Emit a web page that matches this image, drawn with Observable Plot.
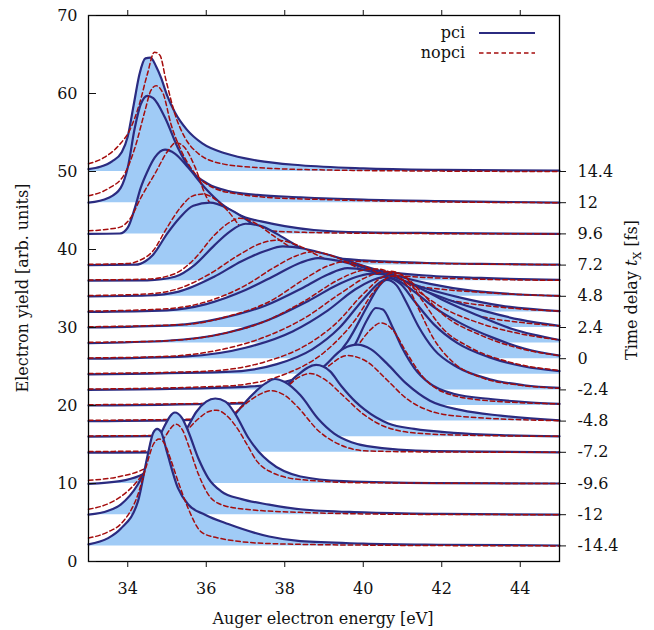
<!DOCTYPE html>
<html><head><meta charset="utf-8">
<script src="https://cdn.jsdelivr.net/npm/d3@7"></script>
<script src="https://cdn.jsdelivr.net/npm/@observablehq/plot@0.6"></script>
<style>body{margin:0;background:#fff}</style>
</head><body><div id="chart"></div>
<script>
// ---- axis data ----
const xTicks = [34, 36, 38, 40, 42, 44];
const yTicks = [0, 10, 20, 30, 40, 50, 60, 70];
// time delays (fs) of every curve, top to bottom, and their vertical offsets
const delays  = [14.4, 12, 9.6, 7.2, 6, 4.8, 3.6, 2.4, 1.2, 0, -1.2, -2.4, -3.6, -4.8, -6, -7.2, -9.6, -12, -14.4];
const offsets = [50, 46, 42, 38, 36, 34, 32, 30, 28, 26, 24, 22, 20, 18, 16, 14, 10, 6, 2];
// right-hand axis: labelled delays
const labelledOffsets = [50, 46, 42, 38, 34, 30, 26, 22, 18, 14, 10, 6, 2];
const delayLabels = ["14.4", "12", "9.6", "7.2", "4.8", "2.4", "0", "-2.4", "-4.8", "-7.2", "-9.6", "-12", "-14.4"];

// ---- curves: [energy eV, electron yield incl. offset] ----
const pci_p144 = [[33,50.3],[33.3,50.6],[33.6,51.3],[33.85,52.5],[34.0,54.5],[34.15,58.5],[34.3,62.5],[34.45,64.5],[34.58,64.6],[34.72,63.5],[34.85,62.0],[35.0,59.8],[35.2,57.6],[35.5,55.4],[35.9,53.6],[36.5,52.3],[37.3,51.4],[38.4,50.8],[40,50.4],[42,50.2],[45,50.1]];
const nopci_p144 = [[33,51.0],[33.4,51.8],[33.8,53.5],[34.05,55.3],[34.3,58.7],[34.5,62.5],[34.68,65.3],[34.82,64.9],[34.97,61.8],[35.2,57.4],[35.45,54.4],[35.8,52.3],[36.4,51.0],[37.3,50.5],[39,50.2],[42,50.05],[45,50.0]];
const pci_p12 = [[33,46.0],[33.5,46.6],[33.82,47.9],[34.0,50.5],[34.18,55.6],[34.33,58.6],[34.5,59.7],[34.65,59.4],[34.95,56.9],[35.28,53.0],[35.62,50.1],[36.05,48.4],[36.56,47.5],[37.3,47.0],[38.4,46.7],[40,46.4],[42,46.2],[45,46.0]];
const nopci_p12 = [[33,46.9],[33.5,47.8],[33.92,49.7],[34.18,53.0],[34.44,57.8],[34.59,60.4],[34.72,61.0],[34.9,60.0],[35.1,56.1],[35.36,52.7],[35.72,49.7],[36.23,47.8],[36.82,47.1],[37.5,46.7],[39,46.4],[42,46.1],[45,46.0]];
const pci_p96 = [[33,42.0],[33.8,42.05],[34.0,42.8],[34.18,45.3],[34.33,47.9],[34.51,50.1],[34.69,51.8],[34.95,52.8],[35.2,52.3],[35.54,50.5],[35.97,47.9],[36.38,45.9],[37.0,44.1],[37.4,43.6],[38.0,43.0],[38.74,42.5],[40,42.2],[42,42.1],[45,42.0]];
const nopci_p96 = [[33,42.4],[33.5,42.6],[33.82,42.9],[34.08,44.1],[34.33,46.6],[34.69,49.7],[35.03,52.7],[35.23,53.7],[35.46,53.0],[35.72,50.5],[35.97,47.1],[36.23,45.0],[36.64,43.4],[37.2,42.6],[38.5,42.2],[41,42.05],[45,42.0]];
const pci_p72 = [[33,38.0],[34.2,38.05],[34.45,38.5],[34.64,39.3],[35.0,42.0],[35.33,44.1],[35.67,45.6],[36.1,46.0],[36.54,45.3],[36.95,44.1],[37.38,42.5],[37.9,40.9],[38.6,39.6],[39.2,39.0],[40,38.6],[41.5,38.3],[43,38.15],[45,38.05]];
const nopci_p72 = [[33,38.1],[34.0,38.2],[34.3,38.6],[34.64,39.8],[35.0,42.8],[35.33,45.3],[35.67,46.9],[35.92,47.1],[36.18,46.6],[36.54,45.0],[36.87,42.9],[37.13,41.5],[37.56,40.2],[38.23,39.3],[39.2,38.7],[41,38.3],[45,38.05]];
const pci_p6 = [[33,36.0],[34.5,36.05],[35.2,36.5],[35.7,38.0],[36.2,40.5],[36.6,42.3],[37.0,43.3],[37.4,43.0],[37.8,42.0],[38.3,40.5],[38.9,39.0],[39.6,38.0],[40.5,37.2],[41.5,36.7],[43,36.35],[45,36.1]];
const nopci_p6 = [[33,36.1],[34.5,36.2],[35.2,36.9],[35.7,38.8],[36.2,41.8],[36.6,43.5],[36.85,44.0],[37.2,43.5],[37.7,41.8],[38.3,39.8],[39.0,38.3],[39.8,37.3],[41,36.6],[42.5,36.25],[45,36.05]];
const pci_p48 = [[33,34.0],[34.5,34.1],[35.3,34.6],[36.2,36.5],[36.9,38.5],[37.5,39.8],[37.95,40.4],[38.5,40.1],[39.2,39.2],[40.0,37.9],[40.8,36.7],[41.7,35.6],[42.8,34.7],[45,34.05]];
const nopci_p48 = [[33,34.1],[34.5,34.3],[35.3,35.0],[36.1,36.9],[36.8,39.2],[37.4,40.8],[37.8,41.2],[38.3,40.6],[38.9,39.1],[39.6,37.5],[40.4,36.2],[41.5,35.2],[43,34.5],[45,34.05]];
const pci_p36 = [[33,32.0],[35,32.2],[36,33.0],[37,34.8],[37.8,36.8],[38.4,38.3],[38.85,38.9],[39.4,38.5],[40,37.7],[40.8,36.4],[41.6,35.0],[42.5,33.8],[43.5,32.8],[45,32.1]];
const nopci_p36 = [[33,32.1],[35,32.4],[36,33.3],[37,35.4],[37.7,37.6],[38.3,39.2],[38.7,39.7],[39.2,39.2],[39.8,37.8],[40.5,36.0],[41.3,34.6],[42.3,33.4],[43.5,32.6],[45,32.1]];
const pci_p24 = [[33,30.0],[35.2,30.3],[36.4,31.2],[37.5,32.8],[38.5,35.2],[39.1,36.8],[39.6,37.6],[40.1,37.3],[40.7,36.4],[41.4,35.0],[42.2,33.5],[43.1,32.1],[44.0,31.0],[45,30.2]];
const nopci_p24 = [[33,30.1],[35.5,30.4],[36.6,31.5],[37.6,33.3],[38.5,36.2],[39.1,37.9],[39.5,38.4],[40.0,37.9],[40.6,36.3],[41.3,34.3],[42.1,32.6],[43.1,31.3],[44.1,30.6],[45,30.2]];
const pci_p12b = [[33,28.0],[35,28.3],[36.5,29.3],[37.6,31.0],[38.6,33.4],[39.4,35.6],[39.9,36.6],[40.25,36.9],[40.7,36.6],[41.3,35.4],[42,33.6],[42.8,31.8],[43.8,29.8],[45,28.4]];
const nopci_p12b = [[33,28.1],[35,28.3],[36.5,29.3],[37.5,30.8],[38.5,33.4],[39.4,36.2],[39.95,37.3],[40.35,37.5],[40.8,36.8],[41.3,35.0],[42,32.6],[43,30.5],[44,29.2],[45,28.4]];
const pci_0 = [[33,26.0],[35.5,26.3],[37.0,27.4],[38.2,29.5],[39.1,32.2],[39.8,34.9],[40.25,36.1],[40.55,36.5],[40.9,36.0],[41.3,34.6],[41.8,32.6],[42.5,30.5],[43.3,28.7],[44.1,27.3],[45,26.4]];
const nopci_0 = [[33,26.1],[35,26.3],[36.5,27.3],[37.5,28.8],[38.5,31.2],[39.4,34.3],[40.1,36.5],[40.7,37.2],[41.1,36.4],[41.5,34.4],[42,31.8],[43,29.0],[44,27.3],[45,26.4]];
const pci_m12 = [[33,24.0],[36.5,24.3],[37.8,25.3],[38.7,27.2],[39.4,30.0],[40.0,33.6],[40.4,35.7],[40.65,36.3],[40.95,35.6],[41.3,33.4],[41.8,30.4],[42.4,28.0],[43.2,26.2],[44.1,25.0],[45,24.4]];
const nopci_m12 = [[33,24.1],[36,24.4],[37.5,25.6],[38.5,27.6],[39.3,30.5],[40.0,34.3],[40.5,36.5],[40.8,37.0],[41.1,36.3],[41.5,33.5],[42,30.0],[42.7,27.5],[43.7,25.6],[45,24.5]];
const pci_m24 = [[33,22.0],[37,22.4],[38.2,23.3],[39.0,25.0],[39.6,28.2],[40.1,32.7],[40.4,35.3],[40.6,36.1],[40.85,35.4],[41.1,33.2],[41.4,30.2],[41.8,27.2],[42.4,24.9],[43.2,23.4],[44.1,22.6],[45,22.25]];
const nopci_m24 = [[33,22.1],[36.5,22.5],[38,24.0],[39,26.8],[39.8,31.0],[40.3,34.8],[40.75,36.6],[41.1,35.5],[41.4,32.5],[41.8,28.5],[42.3,25.5],[43,23.6],[44,22.6],[45,22.2]];
const pci_m36 = [[33,20.0],[37,20.3],[38.0,20.9],[38.8,22.6],[39.4,25.0],[39.8,27.9],[40.1,31.0],[40.32,32.5],[40.5,32.3],[40.75,30.0],[41.0,27.3],[41.3,24.8],[41.7,22.8],[42.3,21.5],[43.3,20.8],[45,20.2]];
const nopci_m36 = [[33,20.1],[37,20.4],[38.3,21.5],[39.2,24.0],[39.8,27.3],[40.2,29.8],[40.45,30.6],[40.75,29.7],[41.1,26.8],[41.5,23.8],[42,21.8],[43,20.7],[45,20.2]];
const pci_m48 = [[33,18.0],[36,18.2],[37.3,19.3],[38.3,21.8],[39.0,25.0],[39.5,27.3],[39.85,27.8],[40.2,27.2],[40.6,25.4],[41.1,22.8],[41.7,20.6],[42.5,19.4],[43.5,18.7],[45,18.1]];
const nopci_m48 = [[33,18.1],[36,18.3],[37.3,19.3],[38.3,21.6],[39.0,24.6],[39.6,26.4],[40.1,25.6],[40.6,23.3],[41.1,20.9],[41.7,19.3],[42.5,18.6],[45,18.05]];
const pci_m6 = [[33,16.0],[35.5,16.1],[36.5,16.8],[37.2,18.4],[37.8,21.2],[38.3,23.8],[38.8,25.2],[39.15,24.4],[39.44,22.5],[39.8,20.5],[40.03,19.5],[40.64,17.7],[41.3,17.0],[42.3,16.5],[43.5,16.2],[45,16.05]];
const nopci_m6 = [[33,16.1],[35.5,16.2],[36.5,16.9],[37.3,18.9],[37.9,21.6],[38.35,23.6],[38.65,24.1],[39.0,23.4],[39.5,21.2],[40.0,18.9],[40.6,17.2],[41.5,16.4],[43,16.15],[45,16.05]];
const pci_m72 = [[33,13.95],[35,14.0],[35.8,14.8],[36.3,16.4],[36.64,18.3],[37.1,21.0],[37.5,22.8],[37.75,23.4],[38.0,23.0],[38.4,21.3],[38.85,18.3],[39.26,16.4],[39.7,15.3],[40.1,14.8],[41.8,14.15],[45,14.0]];
const nopci_m72 = [[33,14.1],[35,14.2],[35.8,15.3],[36.4,17.6],[36.95,20.0],[37.35,21.4],[37.64,21.9],[38.0,21.3],[38.33,19.8],[38.85,16.8],[39.44,14.9],[40.03,14.2],[41.5,14.05],[45,14.0]];
const pci_m96 = [[33,9.95],[33.8,10.3],[34.3,11.0],[34.8,12.5],[35.2,14.8],[35.5,17.0],[35.75,19.2],[36.0,20.5],[36.23,20.9],[36.49,20.5],[36.74,18.9],[37.08,15.8],[37.33,14.1],[37.6,12.8],[38.4,10.9],[39.5,10.3],[41.8,10.05],[45,10.0]];
const nopci_m96 = [[33,10.4],[33.8,10.9],[34.3,11.6],[34.8,13.0],[35.3,15.6],[35.8,18.3],[36.05,19.2],[36.26,19.4],[36.5,18.8],[36.8,17.0],[37.05,14.9],[37.3,12.8],[37.6,11.6],[38.4,10.5],[40,10.1],[45,10.0]];
const pci_m12c = [[33,6.0],[33.5,6.5],[33.82,7.3],[34.26,9.9],[34.6,13.4],[34.9,17.0],[35.2,19.1],[35.38,18.4],[35.54,16.7],[35.8,13.2],[36.05,10.7],[36.38,9.0],[36.9,8.0],[37.6,7.3],[38.4,6.7],[40,6.3],[42,6.1],[45,6.0]];
const nopci_m12c = [[33,6.7],[33.5,7.4],[33.82,8.3],[34.26,10.4],[34.6,12.9],[34.95,16.0],[35.23,17.6],[35.4,16.8],[35.54,15.0],[35.8,11.2],[36.05,8.6],[36.38,7.3],[37.0,6.7],[38.4,6.3],[41,6.05],[45,6.0]];
const pci_m144 = [[33,2.2],[33.5,3.0],[33.82,4.2],[34.26,7.7],[34.51,13.7],[34.65,16.5],[34.75,17.0],[34.85,16.6],[35.0,14.0],[35.28,9.4],[35.54,7.3],[35.97,6.0],[36.56,4.8],[37.6,3.2],[38.4,2.6],[40,2.3],[42,2.15],[45,2.05]];
const nopci_m144 = [[33,3.0],[33.5,3.8],[33.82,4.8],[34.26,8.6],[34.46,12.0],[34.65,15.0],[34.8,15.7],[34.95,15.0],[35.1,13.0],[35.28,10.3],[35.54,6.8],[35.87,3.8],[36.23,3.1],[37.6,2.3],[40,2.1],[45,2.0]];

const pciCurves = [pci_p144, pci_p12, pci_p96, pci_p72, pci_p6, pci_p48, pci_p36, pci_p24, pci_p12b, pci_0, pci_m12, pci_m24, pci_m36, pci_m48, pci_m6, pci_m72, pci_m96, pci_m12c, pci_m144];
const nopciCurves = [nopci_p144, nopci_p12, nopci_p96, nopci_p72, nopci_p6, nopci_p48, nopci_p36, nopci_p24, nopci_p12b, nopci_0, nopci_m12, nopci_m24, nopci_m36, nopci_m48, nopci_m6, nopci_m72, nopci_m96, nopci_m12c, nopci_m144];

// ---- styling ----
const FONT = "DejaVu Serif";
const FS = 16;
const FILL = "#a0cbf6";
const BLUE = "#2b2b80";
const RED = "#a50d0d";

const marks = [];
offsets.forEach((b, i) => {
  marks.push(Plot.areaY(pciCurves[i], {x: d => d[0], y1: () => b, y2: d => d[1], fill: FILL, curve: "monotone-x"}));
  marks.push(Plot.line(pciCurves[i], {x: d => d[0], y: d => d[1], stroke: BLUE, strokeWidth: 2.2, curve: "monotone-x"}));
  marks.push(Plot.line(nopciCurves[i], {x: d => d[0], y: d => d[1], stroke: RED, strokeWidth: 1.5, strokeDasharray: "4.5,3", curve: "monotone-x"}));
});
marks.push(Plot.frame({stroke: "#000", strokeWidth: 1.3}));
marks.push(Plot.axisX({anchor: "bottom", ticks: xTicks, tickSize: 6, tickPadding: 15, label: null, tickFormat: d => String(d)}));
marks.push(Plot.axisX({anchor: "top", ticks: xTicks, tickSize: 6, label: null, tickFormat: () => ""}));
marks.push(Plot.axisY({anchor: "left", ticks: yTicks, tickSize: -8, tickPadding: 19, label: null, tickFormat: d => String(d)}));
marks.push(Plot.axisY({anchor: "right", ticks: labelledOffsets, tickSize: 6, tickPadding: 12, label: null,
  tickFormat: v => delayLabels[labelledOffsets.indexOf(v)]}));

const chart = Plot.plot({
  width: 654, height: 630,
  marginLeft: 88, marginRight: 95, marginTop: 15, marginBottom: 69,
  x: {domain: [33, 45]},
  y: {domain: [0, 70]},
  style: {fontFamily: FONT, fontSize: FS + "px", color: "#111", background: "#fff", overflow: "visible"},
  marks
});
document.getElementById("chart").appendChild(chart);

// ---- titles & legend ----
const svg = d3.select(chart);
const g = svg.append("g").attr("font-family", FONT).attr("font-size", FS).attr("fill", "#111");
g.append("text").attr("x", 323).attr("y", 624).attr("text-anchor", "middle").text("Auger electron energy [eV]");
g.append("text").attr("transform", "translate(28,288) rotate(-90)").attr("text-anchor", "middle").text("Electron yield [arb. units]");
const rt = g.append("text").attr("transform", "translate(637,290) rotate(-90)").attr("text-anchor", "middle");
rt.append("tspan").text("Time delay ");
rt.append("tspan").attr("font-style", "italic").text("t");
rt.append("tspan").attr("font-size", 11).attr("dy", 4).text("X");
rt.append("tspan").attr("dy", -4).text(" [fs]");
// legend
g.append("text").attr("x", 465).attr("y", 38).attr("text-anchor", "end").text("pci");
g.append("text").attr("x", 465).attr("y", 58).attr("text-anchor", "end").text("nopci");
g.append("line").attr("x1", 479).attr("x2", 535).attr("y1", 33).attr("y2", 33).attr("stroke", BLUE).attr("stroke-width", 2.2);
g.append("line").attr("x1", 479).attr("x2", 535).attr("y1", 53).attr("y2", 53).attr("stroke", RED).attr("stroke-width", 1.5).attr("stroke-dasharray", "4.5,3");
</script></body></html>
